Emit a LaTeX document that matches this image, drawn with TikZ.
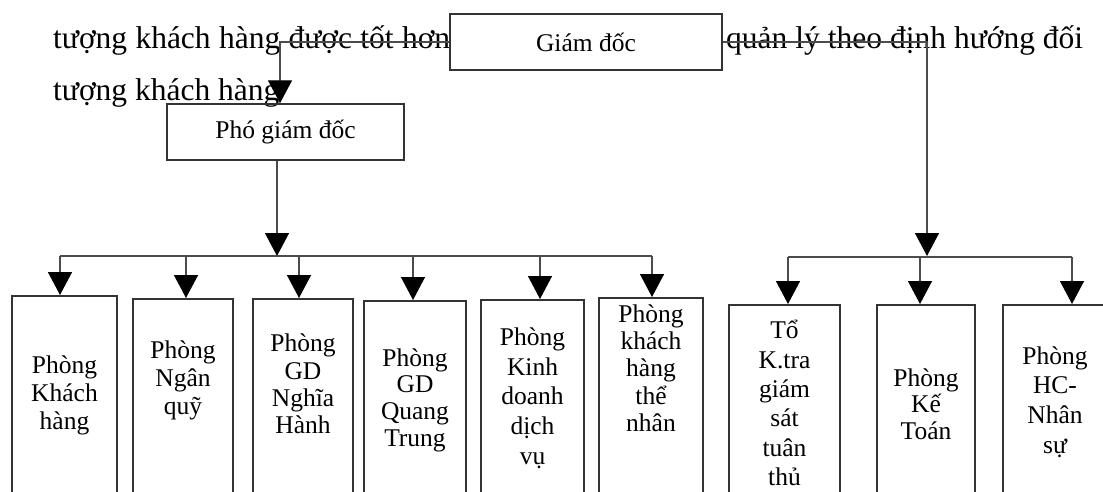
\documentclass[tikz,border=0pt]{standalone}
\usepackage{fontspec}
\setmainfont{Liberation Serif}
\usetikzlibrary{arrows.meta}

\newcommand{\bodyfont}{\fontsize{31.5}{40}\selectfont}
\newcommand{\deptfont}[1]{\fontsize{25.5}{#1}\selectfont}

\tikzset{
    conn/.style={draw=black!70, line width=1.4pt, -{Triangle[width=24pt, length=23pt, color=black]}},
    bus/.style={draw=black!70, line width=1.4pt},
    chief/.style={draw=black!80, line width=1.5pt, inner sep=0pt, font=\deptfont{28}},
    dept/.style={draw=black!80, line width=1.5pt, anchor=north, minimum height=260pt, inner sep=0pt},
    deptlabel/.style={align=center, inner sep=0pt, font=\deptfont{28}},
    bodytext/.style={anchor=base west, inner sep=0pt, font=\bodyfont},
}

\begin{document}
\begin{tikzpicture}[x=1pt, y=-1pt]

    \clip (0,0) rectangle (1103,491);

    % Coordinates
    \coordinate (lft) at (280,0);
    \coordinate (lbus) at (277,256);
    \coordinate (rbus) at (927,256);
    \coordinate (la) at (60,256);
    \coordinate (lb) at (186,256);
    \coordinate (lc) at (299,256);
    \coordinate (ld) at (413,256);
    \coordinate (le) at (540,256);
    \coordinate (lf) at (652,256);
    \coordinate (ra) at (788,257);
    \coordinate (rb) at (920,257);
    \coordinate (rc) at (1072,257);

    % Running text behind the chart
    \node[bodytext] (txtA) at (53,48) {\makebox[397pt][s]{tượng khách hàng được tốt hơn}};
    \node[bodytext] (txtB) at (53,100) {tượng khách hàng};
    \node[bodytext] (txtC) at (726,48) {\makebox[357pt][s]{quản lý theo định hướng đối}};

    % Management
    \node[chief, minimum width=272pt, minimum height=56pt] (gd) at (586,42) {Giám đốc};
    \node[chief, minimum width=237pt, minimum height=56pt] (pgd) at (285.5,132) {Phó giám đốc};

    % Departments
    \node[dept, minimum width=105pt] (khachhang) at (64.5,295) {};
    \node[dept, minimum width=100pt] (nganquy) at (183,298) {};
    \node[dept, minimum width=100pt] (nghiahanh) at (303,298) {};
    \node[dept, minimum width=102pt] (quangtrung) at (415,300) {};
    \node[dept, minimum width=103pt] (kinhdoanh) at (532.5,299) {};
    \node[dept, minimum width=104pt] (thenhan) at (651,297) {};
    \node[dept, minimum width=111pt] (kiemtra) at (784.5,304) {};
    \node[dept, minimum width=98pt] (ketoan) at (926,304) {};
    \node[dept, minimum width=104pt] (nhansu) at (1055,304) {};

    \node[deptlabel] (lblA) at (64.5,395) {Phòng\\Khách\\hàng};
    \node[deptlabel] (lblB) at (183,380) {Phòng\\Ngân\\quỹ};
    \node[deptlabel, font=\deptfont{27.3}] (lblC) at (303,384) {Phòng\\GD\\Nghĩa\\Hành};
    \node[deptlabel, font=\deptfont{26.7}] (lblD) at (415,400) {Phòng\\GD\\Quang\\Trung};
    \node[deptlabel, font=\deptfont{29.7}] (lblE) at (532.5,398) {Phòng\\Kinh\\doanh\\dịch\\vụ};
    \node[deptlabel, font=\deptfont{27.3}] (lblF) at (651,368) {Phòng\\khách\\hàng\\thể\\nhân};
    \node[deptlabel, font=\deptfont{29.4}] (lblG) at (784.5,403) {Tổ\\K.tra\\giám\\sát\\tuân\\thủ};
    \node[deptlabel, font=\deptfont{26.5}] (lblH) at (926,404) {Phòng\\Kế\\Toán};
    \node[deptlabel, font=\deptfont{29.7}] (lblI) at (1055,402) {Phòng\\HC-\\Nhân\\sự};

    % Lines from the director
    \draw[conn] (gd.west) -| (pgd.north -| lft);
    \draw[conn] (gd.east) -| (rbus);
    \draw[conn] (pgd.south -| lbus) -- (lbus);

    % Left branch
    \draw[bus] (la) -- (lf);
    \draw[conn] (la) -- (la |- khachhang.north);
    \draw[conn] (lb) -- (lb |- nganquy.north);
    \draw[conn] (lc) -- (lc |- nghiahanh.north);
    \draw[conn] (ld) -- (ld |- quangtrung.north);
    \draw[conn] (le) -- (le |- kinhdoanh.north);
    \draw[conn] (lf) -- (lf |- thenhan.north);

    % Right branch
    \draw[bus] (ra) -- (rc);
    \draw[conn] (ra) -- (ra |- kiemtra.north);
    \draw[conn] (rb) -- (rb |- ketoan.north);
    \draw[conn] (rc) -- (rc |- nhansu.north);

\end{tikzpicture}
\end{document}
